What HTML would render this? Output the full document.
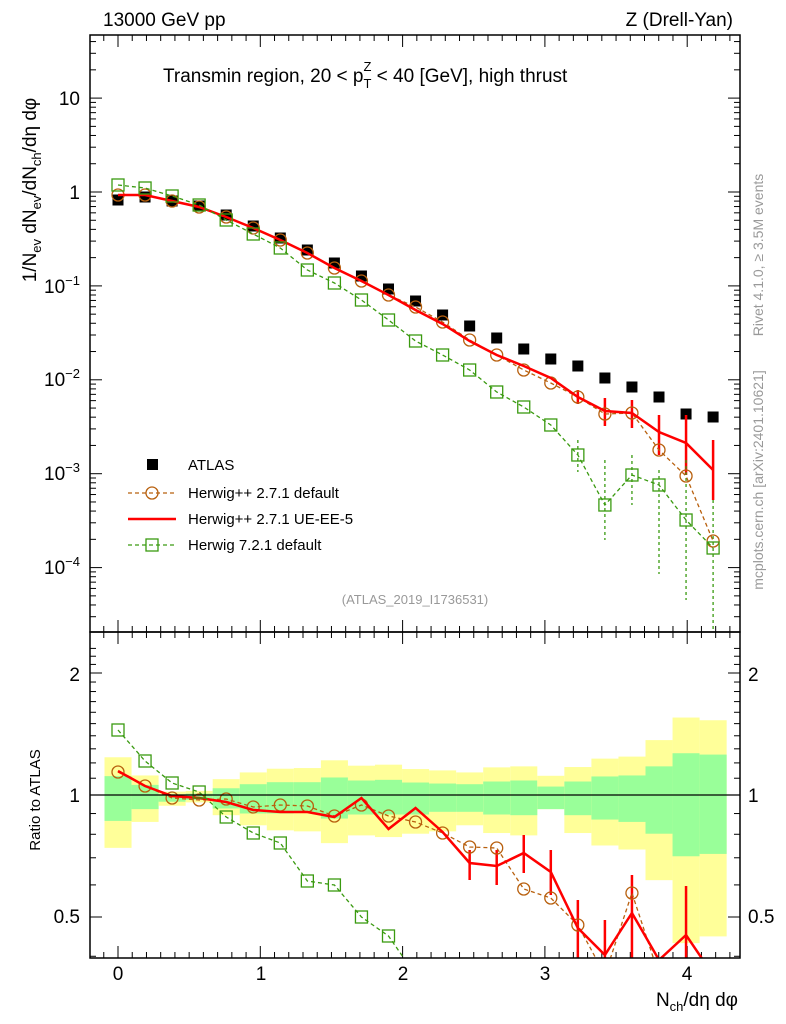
<!DOCTYPE html>
<html><head><meta charset="utf-8"><style>
html,body{margin:0;padding:0;background:#fff;width:786px;height:1024px;overflow:hidden;}
svg{font-family:"Liberation Sans",sans-serif;display:block;overflow:hidden;}
</style></head><body>
<svg id="s" width="786" height="1024" viewBox="0 0 786 1024" xmlns="http://www.w3.org/2000/svg">
<rect width="786" height="1024" fill="#fff"/>
<g id="bands"></g>
<g id="grid"></g>
<g id="data"></g>
<rect x="90" y="35" width="650" height="597" fill="none" stroke="#000" stroke-width="1.5"/>
<rect x="90" y="632" width="650" height="326" fill="none" stroke="#000" stroke-width="1.5"/>
<line x1="90" y1="795" x2="740" y2="795" stroke="#000" stroke-width="1.2"/>
<text x="103" y="26" font-size="19">13000 GeV pp</text>
<text x="733" y="26" font-size="19" text-anchor="end">Z (Drell-Yan)</text>
<text x="163" y="82" font-size="19">Transmin region, 20 &lt; p<tspan font-size="13" dy="6">T</tspan><tspan font-size="13" dx="-8" dy="-17">Z</tspan><tspan dy="11"> &lt; 40 [GeV], high thrust</tspan></text>
<text x="415" y="604" font-size="13" fill="#999" text-anchor="middle">(ATLAS_2019_I1736531)</text>
<text transform="translate(763,255) rotate(-90)" font-size="14" fill="#999" text-anchor="middle">Rivet 4.1.0, ≥ 3.5M events</text>
<text transform="translate(763,480) rotate(-90)" font-size="14" fill="#999" text-anchor="middle">mcplots.cern.ch [arXiv:2401.10621]</text>
<text transform="translate(36,190) rotate(-90)" font-size="19" text-anchor="middle">1/N<tspan font-size="13" dy="5">ev</tspan><tspan dy="-5"> dN</tspan><tspan font-size="13" dy="5">ev</tspan><tspan dy="-5">/dN</tspan><tspan font-size="13" dy="5">ch</tspan><tspan dy="-5">/dη dφ</tspan></text>
<text transform="translate(40,800) rotate(-90)" font-size="15" text-anchor="middle">Ratio to ATLAS</text>
<text x="738" y="1006" font-size="19" text-anchor="end">N<tspan font-size="13" dy="5">ch</tspan><tspan dy="-5">/dη dφ</tspan></text>
<g font-size="19" text-anchor="end">
<text x="80" y="105">10</text><text x="80" y="199">1</text>
<text x="80" y="293">10<tspan font-size="13" dy="-8">−1</tspan></text>
<text x="80" y="386">10<tspan font-size="13" dy="-8">−2</tspan></text>
<text x="80" y="480">10<tspan font-size="13" dy="-8">−3</tspan></text>
<text x="80" y="574">10<tspan font-size="13" dy="-8">−4</tspan></text>
<text x="80" y="681">2</text><text x="80" y="802">1</text><text x="80" y="923">0.5</text>
</g>
<g font-size="19" text-anchor="start"><text x="748" y="681">2</text><text x="748" y="802">1</text><text x="748" y="923">0.5</text></g>
<g font-size="19" text-anchor="middle"><text x="118" y="980">0</text><text x="261" y="980">1</text><text x="403" y="980">2</text><text x="545" y="980">3</text><text x="687" y="980">4</text></g>
<g font-size="15">
<rect x="147" y="459" width="11" height="11" fill="#000"/><text x="188" y="470">ATLAS</text>
<line x1="128" y1="493" x2="176" y2="493" stroke="#b8600e" stroke-width="1.3" stroke-dasharray="4,3"/><circle cx="152" cy="493" r="6" fill="none" stroke="#b8600e" stroke-width="1.3"/><text x="188" y="498">Herwig++ 2.7.1 default</text>
<line x1="128" y1="519" x2="176" y2="519" stroke="#f00" stroke-width="2.5"/><text x="188" y="524">Herwig++ 2.7.1 UE-EE-5</text>
<line x1="128" y1="545" x2="176" y2="545" stroke="#3a9a10" stroke-width="1.3" stroke-dasharray="4,3"/><rect x="146" y="539" width="12" height="12" fill="none" stroke="#3a9a10" stroke-width="1.3"/><text x="188" y="550">Herwig 7.2.1 default</text>
</g>
</svg>
<script>
const NS="http://www.w3.org/2000/svg";
function el(p,t,a){const e=document.createElementNS(NS,t);for(const k in a)e.setAttribute(k,a[k]);document.getElementById(p).appendChild(e);return e;}
const X=i=>118+i*27.05;
for(let v=-0.1;v<=4.35;v+=0.1){const x=118+v*142.3;if(x<91||x>739)continue;const maj=Math.abs(v-Math.round(v))<0.01;const L=maj?12:6;
 [[35,1],[632,-1],[632,1],[958,-1]].forEach(([y,d])=>el("grid","line",{x1:x,x2:x,y1:y,y2:y+d*L,stroke:"#000","stroke-width":1}));}
const MY=v=>192-Math.log10(v)*93.9;
for(let e=-5;e<=1;e++)for(let m=1;m<10;m++){const y=MY(m*Math.pow(10,e));if(y<36||y>631)continue;const L=m==1?12:6;
 el("grid","line",{x1:90,x2:90+L,y1:y,y2:y,stroke:"#000"});el("grid","line",{x1:740,x2:740-L,y1:y,y2:y,stroke:"#000"});}
const RY=v=>795-Math.log2(v)*122;
[0.4,0.5,0.6,0.7,0.8,0.9,1,1.1,1.2,1.3,1.4,1.5,1.6,1.7,1.8,1.9,2,2.1,2.2,2.3].forEach(v=>{const y=RY(v);if(y<633||y>957)return;const L=(v==1||v==2||v==0.5)?12:6;
 el("grid","line",{x1:90,x2:90+L,y1:y,y2:y,stroke:"#000"});el("grid","line",{x1:740,x2:740-L,y1:y,y2:y,stroke:"#000"});});
const B=[[378,647,434,567],[432,570,460,532],[480,522,488,510],[478,512,486,505],[443,550,470,530],[423,580,458,545],[412,595,452,545],[410,598,452,543],[387,633,438,560],[403,610,447,548],[400,615,445,548],[413,605,453,548],[417,598,456,540],[423,580,458,540],[408,603,450,548],[405,610,447,550],[433,532,465,532],[407,603,450,550],[382,640,435,563],[376,652,432,570],[327,743,405,605],[260,930,366,672],[268,910,370,665]];
const Z=y=>630+y/2.97;
B.forEach((b,i)=>{const x0=X(i)-13.5,w=27.05;
 el("bands","rect",{x:x0,y:Z(b[0]),width:w,height:Z(b[1])-Z(b[0]),fill:"#ffff99"});
 el("bands","rect",{x:x0,y:Z(b[2]),width:w,height:Z(b[3])-Z(b[2]),fill:"#99ff99"});});
const atl=[200,197,201,206,215,226,238,250,263,276,289,301,315,326,338,349,359,366,378,387,397,414,417];
const red=[195,195,201,207,217,228,240,253,268,281,295,310,324,341,355,366,378,397,411,413,432,443,470];
const brn=[195,195,201,207,217,228,240,253,268,281,295,307,322,340,355,370,383,397,414,413,450,476,541];
const grn=[185,188,196,205,220,234,248,270,283,300,320,341,355,370,392,407,425,455,505,475,485,520,548];
const pts=a=>a.map((y,i)=>X(i)+","+y).join(" ");
function series(a,col,dash,w,mk,clipTop,clipBot){
 el("data","polyline",{points:pts(a),fill:"none",stroke:col,"stroke-width":w,"stroke-dasharray":dash||"none"});
 if(mk)a.forEach((y,i)=>{if(y<clipTop||y>clipBot)return;const x=X(i);
  if(mk=="c")el("data","circle",{cx:x,cy:y,r:6,fill:"none",stroke:col,"stroke-width":1.3});
  else el("data","rect",{x:x-6,y:y-6,width:12,height:12,fill:"none",stroke:col,"stroke-width":1.3});});}
el("data","clipPath",{id:"cr"});el("cr","rect",{x:90,y:632,width:650,height:326});
atl.forEach((y,i)=>el("data","rect",{x:X(i)-5.5,y:y-5.5,width:11,height:11,fill:"#000"}));
[[17,390,404],[18,398,426],[19,400,428],[20,415,455],[21,415,475],[22,440,500]].forEach(([i,a,b])=>el("data","line",{x1:X(i),x2:X(i),y1:a,y2:b,stroke:"#f00","stroke-width":2.5}));
[[17,440,472],[18,460,540],[19,455,505],[20,470,574],[21,460,600],[22,500,632]].forEach(([i,a,b])=>el("data","line",{x1:X(i),x2:X(i),y1:a,y2:b,stroke:"#3a9a10","stroke-width":1.3,"stroke-dasharray":"3,3"}));
series(brn,"#b8600e","4,3",1.3,"c",0,632);
series(red,"#f00","",2.5,null);
series(grn,"#3a9a10","4,3",1.3,"s",0,632);
const rR=[771,786,796,798,802,810,812,812,817,798,829,808,832,863,866,853,872,928,955,913,960,935,975];
const rB=[772,786,798,800,799,807,805,806,816,805,816,822,833,847,848,889,898,925,975,893,975,975,975];
const rG=[730,761,783,792,817,833,843,881,885,917,936,975];
const g=document.createElementNS(NS,"g");g.setAttribute("clip-path","url(#cr)");g.id="rat";document.getElementById("data").appendChild(g);
function rs(a,col,dash,w,mk){el("rat","polyline",{points:pts(a),fill:"none",stroke:col,"stroke-width":w,"stroke-dasharray":dash||"none"});
 if(mk)a.forEach((y,i)=>{if(y>950)return;const x=X(i);
  if(mk=="c")el("rat","circle",{cx:x,cy:y,r:6,fill:"none",stroke:col,"stroke-width":1.3});
  else el("rat","rect",{x:x-6,y:y-6,width:12,height:12,fill:"none",stroke:col,"stroke-width":1.3});});}
[[13,850,880],[14,850,885],[15,835,873],[16,850,895],[17,900,958],[18,920,958],[19,875,958],[21,886,958]].forEach(([i,a,b])=>el("rat","line",{x1:X(i),x2:X(i),y1:a,y2:b,stroke:"#f00","stroke-width":2.5}));
rs(rB,"#b8600e","4,3",1.3,"c");
rs(rR,"#f00","",2.5,null);
rs(rG,"#3a9a10","4,3",1.3,"s");
</script>
</body></html>
